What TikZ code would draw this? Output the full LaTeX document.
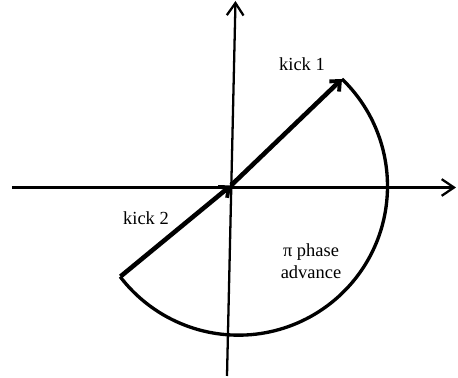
\documentclass[tikz,border=0pt]{standalone}
\usepackage{fontspec}
\setmainfont{Liberation Serif}
\usepackage{tikz}
\usetikzlibrary{arrows.meta, positioning}

\begin{document}
\begin{tikzpicture}[
        x=0.02cm, y=0.02cm,
        axis/.style={line width=1.3pt, -{Straight Barb[length=7pt, width=9.5pt, line width=1.3pt]}},
        kick/.style={line width=2.6pt, -{Straight Barb[length=4.5pt, width=8pt, line width=2.2pt]}},
        phase/.style={line width=1.9pt},
        lbl/.style={font=\fontsize{10.5}{12.5}\selectfont, align=center, inner sep=0pt}
    ]
    \useasboundingbox (0,0) rectangle (458,378);

    %% axes
    \coordinate (xl) at (12,190.5);
    \coordinate (xr) at (456,190.5);
    \coordinate (yb) at (227,2);
    \coordinate (yt) at (235.5,377);
    \draw[axis] (xl) -- (xr);
    \draw[axis] (yb) -- (yt);

    %% kicks
    \coordinate (O)  at (231,192.5);
    \coordinate (k1) at (342,299);
    \coordinate (k2) at (120.5,101.5);
    \draw[kick] (O) -- (k1);
    \draw[kick] (k2) -- (O);

    %% phase advance arc
    \draw[phase] (k1) arc[start angle=46, end angle=-142.6, radius=149];

    %% labels
    \node[lbl] (kone) at (302,314) {kick 1};
    \node[lbl] (ktwo) at (146,160) {kick 2};
    \node[lbl] (adv)  at (311,117) {π phase\\advance};
\end{tikzpicture}
\end{document}
